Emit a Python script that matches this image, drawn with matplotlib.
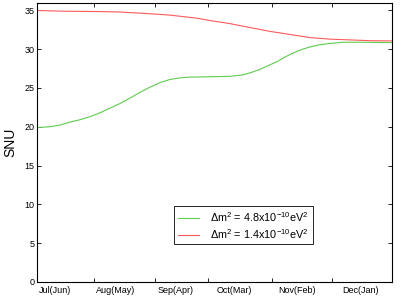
import matplotlib
matplotlib.use("Agg")
import matplotlib.pyplot as plt

plt.rcParams['font.family'] = ['Liberation Sans', 'DejaVu Sans']
plt.rcParams['mathtext.fontset'] = 'custom'
plt.rcParams['mathtext.rm'] = 'Liberation Sans'
plt.rcParams['mathtext.it'] = 'Liberation Sans'

# month labels (placed between boundary ticks)
month_labels = ["Jul(Jun)", "Aug(May)", "Sep(Apr)", "Oct(Mar)", "Nov(Feb)", "Dec(Jan)"]
label_pos = [0.30, 1.33, 2.34, 3.33, 4.40, 5.47]
boundary_ticks = [0.959, 1.983, 2.879, 3.965, 4.980]

green_x = [0.0, 0.215, 0.40, 0.553, 0.72, 0.891, 1.06, 1.230, 1.40, 1.568, 1.74, 1.906,
           2.08, 2.245, 2.41, 2.583, 2.921, 3.260, 3.480, 3.62, 3.767, 3.91, 4.055,
           4.19, 4.326, 4.47, 4.613, 4.76, 4.901, 5.171, 5.459, 6.0]
green_y = [19.9, 20.0, 20.25, 20.6, 20.9, 21.3, 21.8, 22.4, 23.0, 23.7, 24.45, 25.1,
           25.7, 26.1, 26.3, 26.4, 26.45, 26.5, 26.7, 27.0, 27.4, 27.9, 28.4,
           29.0, 29.5, 29.95, 30.3, 30.55, 30.7, 30.9, 30.9, 30.85]

red_x = [0.0, 0.440, 1.010, 1.399, 1.856, 2.245, 2.702, 2.921, 3.260, 3.598,
         3.936, 4.275, 4.613, 4.952, 5.290, 5.628, 6.0]
red_y = [35.0, 34.9, 34.86, 34.8, 34.6, 34.4, 34.0, 33.7, 33.3, 32.8,
         32.3, 31.9, 31.5, 31.3, 31.2, 31.1, 31.07]

fig = plt.figure(figsize=(4.15, 2.97), dpi=100)
ax = fig.add_axes([0.0899, 0.0512, 0.8547, 0.9397])

ax.plot(green_x, green_y, color='#5fcc4f', lw=0.8,
        label=r'$\Delta$m$^2$ = 4.8x10$^{-10}$eV$^2$')
ax.plot(red_x, red_y, color='#ff5a5a', lw=0.8,
        label=r'$\Delta$m$^2$ = 1.4x10$^{-10}$eV$^2$')

ax.set_xlim(0, 6)
ax.set_ylim(0, 36)
ax.set_yticks([0, 5, 10, 15, 20, 25, 30, 35])
ax.set_xticks(boundary_ticks)
ax.set_xticklabels([])
ax.set_xticks(label_pos, minor=True)
ax.set_xticklabels(month_labels, minor=True, fontsize=6.5)
ax.tick_params(axis='x', which='minor', length=0, pad=3)
ax.tick_params(axis='both', which='major', direction='in', top=True, right=True,
               length=3, width=0.6, labelsize=6.5, pad=2)
for s in ax.spines.values():
    s.set_linewidth(0.8)

ax.set_ylabel('SNU', fontsize=10, labelpad=5)

leg = ax.legend(loc='upper left', bbox_to_anchor=(0.385, 0.27), fontsize=7.8,
                frameon=True, fancybox=False, edgecolor='black', framealpha=1,
                handlelength=2.0, borderpad=0.35, labelspacing=0.25, handletextpad=1.0,
                borderaxespad=0)
leg.get_frame().set_linewidth(0.6)

fig.savefig('out.png', dpi=100)
